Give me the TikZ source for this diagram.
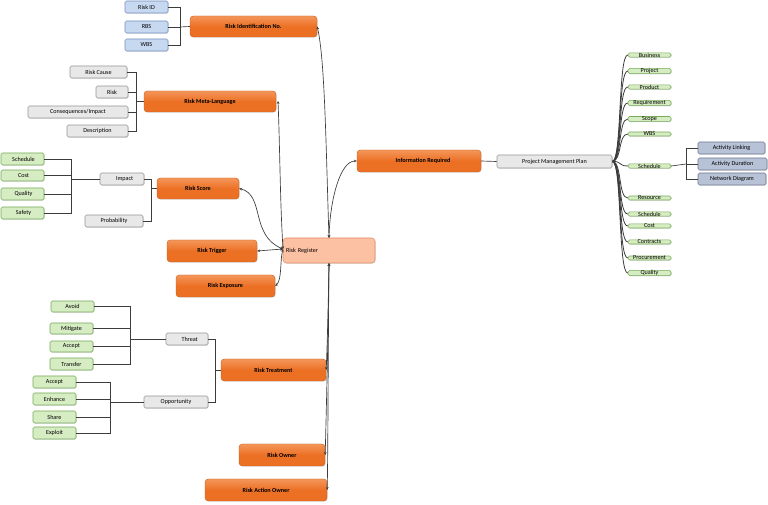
\documentclass[tikz,border=0pt]{standalone}
\usepackage{fontspec}
\setmainfont{Carlito}
\usetikzlibrary{shadows,arrows.meta}
\definecolor{org}{RGB}{236,112,36}
\definecolor{orgl}{RGB}{244,150,90}
\definecolor{blu}{RGB}{198,217,241}
\definecolor{blud}{RGB}{120,145,190}
\definecolor{gry}{RGB}{232,232,232}
\definecolor{gryd}{RGB}{150,150,150}
\definecolor{grn}{RGB}{214,236,194}
\definecolor{grnd}{RGB}{120,170,90}
\definecolor{reg}{RGB}{252,192,162}
\definecolor{regd}{RGB}{225,140,100}
\definecolor{act}{RGB}{184,194,214}
\definecolor{actd}{RGB}{110,120,145}
\definecolor{ln}{RGB}{60,60,60}
\tikzset{
 base/.style={rectangle,rounded corners=1.2pt,inner sep=0pt,drop shadow={shadow xshift=0.5pt,shadow yshift=-0.5pt,opacity=0.3},font=\fontsize{4.6}{5}\selectfont},
 orange/.style={base,rounded corners=2.5pt,top color=orgl,bottom color=org,middle color=org,draw=org!85!black,line width=0.3pt,font=\fontsize{4.6}{5}\bfseries\selectfont},
 blue/.style={base,fill=blu,draw=blud,line width=0.4pt},
 grey/.style={base,fill=gry,draw=gryd,line width=0.4pt},
 green/.style={base,fill=grn,draw=grnd,line width=0.4pt},
 act/.style={base,fill=act,draw=actd,line width=0.4pt},
 regs/.style={base,rounded corners=2.5pt,fill=reg,draw=regd,line width=0.4pt,align=left,text width={(375-283-6)*0.75pt}},
 tree/.style={draw=ln,line width=0.5pt},
 arr/.style={draw=ln,line width=0.5pt,{Stealth[length=2.2pt,width=2pt]}-{Stealth[length=2.2pt,width=2pt]}},
}
\newcommand\bx[7]{\node[#6,minimum width={(#4-#2)*0.75pt},minimum height={(#5-#3)*0.75pt}] (#1) at ({(#2+#4)/2},{(#3+#5)/2}) {#7};}
\begin{document}
\begin{tikzpicture}[x=0.75pt,y=-0.75pt]
\useasboundingbox (0,0) rectangle (768,505);
% left top
\bx{rid}{125}{1}{168}{13}{blue}{Risk ID}
\bx{rbs}{125}{21}{168}{33}{blue}{RBS}
\bx{wbs}{125}{39}{168}{51}{blue}{WBS}
\bx{rin}{190}{16}{317}{37}{orange}{Risk Identification No.}
\bx{rc}{70}{66}{127}{78}{grey}{Risk Cause}
\bx{rk}{96}{86}{128}{98}{grey}{Risk}
\bx{ci}{28}{106}{128}{118}{grey}{Consequences/Impact}
\bx{de}{67}{125}{128}{137}{grey}{Description}
\bx{rml}{144}{91}{276}{112}{orange}{Risk Meta-Language}
\bx{sc}{1}{153}{44}{165}{green}{\hspace*{1.5pt}Schedule\hfill}
\bx{co}{1}{170}{44}{181}{green}{\hspace*{1.5pt}Cost\hfill}
\bx{qu}{1}{188}{44}{200}{green}{\hspace*{1.5pt}Quality\hfill}
\bx{sa}{1}{207}{44}{219}{green}{\hspace*{1.5pt}Safety\hfill}
\bx{im}{100}{173}{144}{185}{grey}{\hspace*{4pt}Impact\hfill}
\bx{pr}{85}{215}{143}{227}{grey}{Probability}
\bx{rs}{157}{178}{239}{199}{orange}{Risk Score}
\bx{rt}{167}{240}{257}{262}{orange}{Risk Trigger}
\bx{rr}{283}{238}{375}{263}{regs}{Risk Register}
\bx{re}{176}{275}{275}{297}{orange}{Risk Exposure}
% treatment
\bx{av}{51}{301}{94}{312}{green}{Avoid}
\bx{mi}{50}{323}{93}{334}{green}{Mitigate}
\bx{ac}{50}{341}{93}{352}{green}{Accept}
\bx{tr}{50}{358}{93}{370}{green}{Transfer}
\bx{ac2}{33}{376}{76}{388}{green}{Accept}
\bx{en}{33}{393}{76}{405}{green}{Enhance}
\bx{sh}{33}{411}{76}{423}{green}{Share}
\bx{ex}{33}{427}{76}{439}{green}{Exploit}
\bx{th}{166}{333}{208}{345}{grey}{\hspace*{4pt}Threat\hfill}
\bx{op}{144}{396}{208}{408}{grey}{Opportunity}
\bx{rtr}{221}{359}{326}{381}{orange}{Risk Treatment}
\bx{ro}{239}{444}{325}{466}{orange}{Risk Owner}
\bx{rao}{205}{479}{327}{501}{orange}{Risk Action Owner}
% right
\bx{ir}{357}{150}{481}{172}{orange}{\hspace*{6pt}Information Required\hfill}
\bx{pmp}{497}{155}{612}{168}{grey}{Project Management Plan}
\foreach \n/\y/\t in {g1/55/Business,g2/71/Project,g3/87/Product,g4/103/Requirement,g5/119/Scope,g6/134/WBS,g7/166/Schedule,g8/198/Resource,g9/214/Schedule,g10/226/Cost,g11/242/Contracts,g12/258/Procurement,g13/273/Quality}{
  \bx{\n}{628}{\y-5.5}{671}{\y+5.5}{green}{\t}
  \draw[tree,line width=0.6pt] (pmp.east) .. controls (622,161) and (618,\y) .. (\n.west);
}
\bx{al}{698}{142}{765}{154}{act}{Activity Linking}
\bx{ad}{698}{158}{767}{170}{act}{Activity Duration}
\bx{nd}{698}{173}{766}{185}{act}{Network Diagram}
% tree connectors
\coordinate (j1) at (180,27);
\foreach \a in {rid,rbs,wbs}{\draw[tree] (\a.east) -| (j1);}
\draw[tree] (j1) -- (rin.west);
\coordinate (j2) at (136,101.5);
\foreach \a in {rc,rk,ci,de}{\draw[tree] (\a.east) -| (j2);}
\draw[tree] (j2) -- (rml.west);
\coordinate (j3) at (71,179);
\foreach \a in {sc,co,qu,sa}{\draw[tree] (\a.east) -| (j3);}
\draw[tree] (j3) -- (im.west);
\coordinate (j4) at (151,188.5);
\foreach \a in {im,pr}{\draw[tree] (\a.east) -| (j4);}
\draw[tree] (j4) -- (rs.west);
\coordinate (j5) at (130,339);
\foreach \a in {av,mi,ac,tr}{\draw[tree] (\a.east) -| (j5);}
\draw[tree] (j5) -- (th.west);
\coordinate (j6) at (110,402);
\foreach \a in {ac2,en,sh,ex}{\draw[tree] (\a.east) -| (j6);}
\draw[tree] (j6) -- (op.west);
\coordinate (j7) at (215,370);
\foreach \a in {th,op}{\draw[tree] (\a.east) -| (j7);}
\draw[tree] (j7) -- (rtr.west);
\coordinate (j8) at (686,164);
\foreach \a in {al,ad,nd}{\draw[tree] (\a.west) -| (j8);}
\draw[tree] (j8) -- (g7.east);
\draw[tree] (ir.east) -- (pmp.west);
% register arrows
\coordinate (rtop) at (329,238);
\coordinate (rbot) at (329,263);
\coordinate (rleft) at (283,249);
\draw[arr] (rtop) .. controls (326,150) and (325,60) .. (rin.east);
\draw[arr] (rtop) .. controls (330,200) and (340,161) .. (ir.west);
\draw[arr] (rleft) .. controls (280,200) and (280,150) .. (278,101);
\draw[arr] (rleft) .. controls (250,235) and (265,195) .. (rs.east);
\draw[arr] (rleft) -- (rt.east);
\draw[arr] (rleft) .. controls (280,260) and (282,280) .. (re.east);
\draw[arr] (rbot) .. controls (328,320) and (327,350) .. (rtr.east);
\draw[arr] (rbot) .. controls (328,350) and (326,420) .. (ro.east);
\draw[arr] (rbot) .. controls (328,370) and (328,450) .. (rao.east);
\end{tikzpicture}
\end{document}
